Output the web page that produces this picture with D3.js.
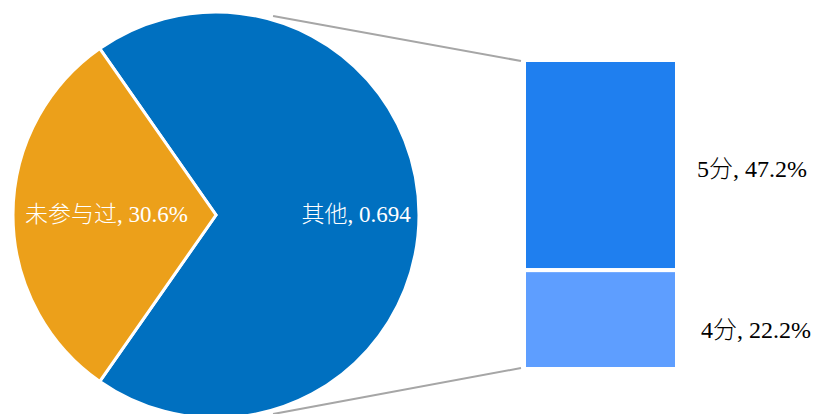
<!DOCTYPE html>
<html>
<head>
<meta charset="utf-8">
<script src="https://cdn.jsdelivr.net/npm/d3@7"></script>
<style>
  body { margin: 0; background: #fff; }
  text { font-family: "Liberation Serif", "Times New Roman", "Noto Sans CJK SC", serif; }
</style>
</head>
<body>
<div id="chart"></div>
<script>
// pie: main categories
const pieLabels = ["其他", "未参与过"];
const pieValues = [0.694, 0.306];
const pieText = ["其他, 0.694", "未参与过, 30.6%"];
const pieColors = ["#0070C0", "#ECA01A"];

// bar: breakdown of "其他"
const barLabels = ["5分", "4分"];
const barValues = [0.472, 0.222];
const barText = ["5分, 47.2%", "4分, 22.2%"];
const barColors = ["#1F7FEF", "#5E9EFF"];

const width = 813, height = 414;
const cx = 216, cy = 215, r = 203;

const svg = d3.select("#chart")
    .append("svg")
    .attr("width", width)
    .attr("height", height);

// rotate so the small slice points left
const a0 = 1.5 * Math.PI - pieValues[0] * 2 * Math.PI - pieValues[1] * Math.PI;
const pie = d3.pie().sort(null).startAngle(a0).endAngle(a0 + 2 * Math.PI);
const arcs = pie(pieValues);
const arc = d3.arc().innerRadius(0).outerRadius(r);

const g = svg.append("g").attr("transform", "translate(" + cx + "," + cy + ")");

g.selectAll("path")
    .data(arcs)
    .enter()
    .append("path")
    .attr("d", arc)
    .attr("fill", (d, i) => pieColors[i])
    .attr("stroke", "#fff")
    .attr("stroke-width", 3)
    .attr("stroke-linejoin", "miter");

// label radius as fraction of r, per slice
const labelR = [0.69, 0.54];
g.selectAll("text.pl")
    .data(arcs)
    .enter()
    .append("text")
    .attr("class", "pl")
    .attr("x", (d, i) => {
        const a = (d.startAngle + d.endAngle) / 2;
        return Math.sin(a) * r * labelR[i];
    })
    .attr("y", 7)
    .attr("text-anchor", "middle")
    .attr("fill", "#fff")
    .attr("font-size", 23)
    .attr("font-weight", 300)
    .text((d, i) => pieText[i]);

// stacked bar
const total = d3.sum(barValues);
const yScale = d3.scaleLinear().domain([0, total]).range([60, 369]);
const xScale = d3.scaleLinear().domain([0, 1]).range([524, 677]);
const stacked = [];
let acc = 0;
barValues.forEach((v, i) => { stacked.push({ y0: acc, y1: acc + v, i: i }); acc += v; });

svg.selectAll("rect.bar")
    .data(stacked)
    .enter()
    .append("rect")
    .attr("class", "bar")
    .attr("x", xScale(0))
    .attr("width", xScale(1) - xScale(0))
    .attr("y", d => yScale(d.y0))
    .attr("height", d => yScale(d.y1) - yScale(d.y0))
    .attr("fill", d => barColors[d.i])
    .attr("stroke", "#fff")
    .attr("stroke-width", 4);

// connector lines from pie edge to bar corners
const ca = 16 * Math.PI / 180;
const rr = r * 1.02;
const lines = [
    [cx + rr * Math.sin(ca), cy - rr * Math.cos(ca), xScale(0) - 3, yScale(0) + 1],
    [cx + rr * Math.sin(ca), cy + rr * Math.cos(ca), xScale(0) - 3, yScale(total) - 1]
];
svg.selectAll("line.conn")
    .data(lines)
    .enter()
    .append("line")
    .attr("class", "conn")
    .attr("x1", d => d[0]).attr("y1", d => d[1])
    .attr("x2", d => d[2]).attr("y2", d => d[3])
    .attr("stroke", "#A6A6A6")
    .attr("stroke-width", 2);

// bar labels
const labelDx = [697, 701];
const labelDy = [12, 18];
svg.selectAll("text.bl")
    .data(stacked)
    .enter()
    .append("text")
    .attr("class", "bl")
    .attr("x", (d, i) => labelDx[i])
    .attr("y", d => (yScale(d.y0) + yScale(d.y1)) / 2 + labelDy[d.i])
    .attr("fill", "#000")
    .attr("font-size", 24)
    .attr("font-weight", 300)
    .text((d, i) => barText[i]);
</script>
</body>
</html>
